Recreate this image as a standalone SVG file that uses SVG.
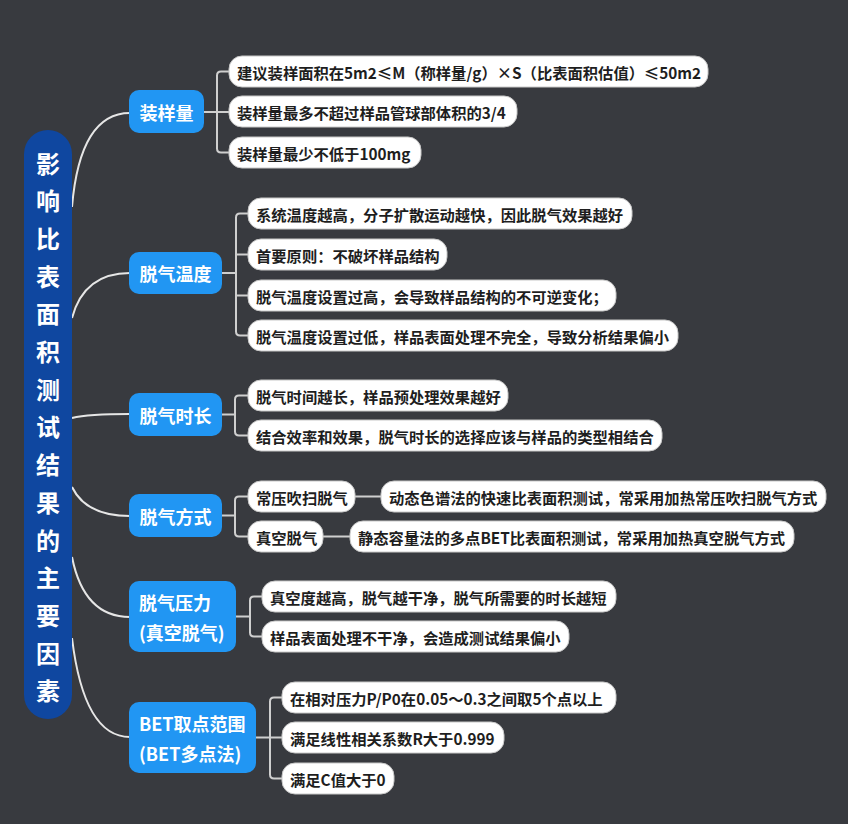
<svg xmlns="http://www.w3.org/2000/svg" width="848" height="824" viewBox="0 0 848 824">
<style>
.bg{fill:#383a3f}
.root{fill:#0f47a0}
.l1{fill:#2196f3}
.leaf{fill:#ffffff;stroke:#c8c8c8;stroke-width:1}
.curve{fill:none;stroke:#e6e6e6;stroke-width:2}
.br{fill:none;stroke:#cfcfcf;stroke-width:2}
text{font-family:"Noto Sans CJK SC","Microsoft YaHei",sans-serif;font-weight:bold;dominant-baseline:central}
.rt{fill:#ffffff;font-size:24px;text-anchor:middle}
.t1{fill:#ffffff;font-size:18px}
.t1c{fill:#ffffff;font-size:18px;text-anchor:middle}
.t2{fill:#1e1e1e;font-size:15.3px}
</style>
<rect class="bg" x="0" y="0" width="848" height="824"/>

<g id="connectors">
  <path class="curve" d="M72,207 Q80,113 130,113"/>
  <path class="curve" d="M72,318 Q84,273 130,273"/>
  <path class="curve" d="M72,418 Q88,414 130,414"/>
  <path class="curve" d="M72,487 Q86,516 130,516"/>
  <path class="curve" d="M72,557 Q84,617 130,617"/>
  <path class="curve" d="M72,638 Q84,737 130,737"/>

  <path class="br" d="M204,112 H229 M229,71.5 H221 Q217,71.5 217,75.5 V148.5 Q217,152.5 221,152.5 H229"/>
  <path class="br" d="M222,273 H236 M248,213.5 H240 Q236,213.5 236,217.5 V331.5 Q236,335.5 240,335.5 H248 M236,254.5 H248 M236,295.5 H248"/>
  <path class="br" d="M222,414.5 H235 M248,395.5 H239 Q235,395.5 235,399.5 V431.5 Q235,435.5 239,435.5 H248"/>
  <path class="br" d="M222,515.5 H235 M248,496.5 H239 Q235,496.5 235,500.5 V532.5 Q235,536.5 239,536.5 H248"/>
  <path class="br" d="M355,496.5 H381 M323,536.5 H350"/>
  <path class="br" d="M236,616.5 H250 M262,596.5 H254 Q250,596.5 250,600.5 V632.5 Q250,636.5 254,636.5 H262"/>
  <path class="br" d="M256,737.5 H282 M282,697.5 H274 Q270,697.5 270,701.5 V774.5 Q270,778.5 274,778.5 H282"/>
</g>

<g id="root">
  <rect class="root" x="24" y="130" width="48" height="589" rx="24"/>
  <text class="rt" x="48" y="162">影</text>
  <text class="rt" x="48" y="199.7">响</text>
  <text class="rt" x="48" y="237.4">比</text>
  <text class="rt" x="48" y="275.1">表</text>
  <text class="rt" x="48" y="312.8">面</text>
  <text class="rt" x="48" y="350.5">积</text>
  <text class="rt" x="48" y="388.2">测</text>
  <text class="rt" x="48" y="425.9">试</text>
  <text class="rt" x="48" y="463.6">结</text>
  <text class="rt" x="48" y="501.3">果</text>
  <text class="rt" x="48" y="539">的</text>
  <text class="rt" x="48" y="576.7">主</text>
  <text class="rt" x="48" y="614.4">要</text>
  <text class="rt" x="48" y="652.1">因</text>
  <text class="rt" x="48" y="689.8">素</text>
</g>

<g id="n-zyl">
  <rect class="l1" x="129" y="90" width="75" height="43" rx="10"/>
  <text class="t1c" x="166.5" y="111.5">装样量</text>
</g>
<g id="n-zyl-1"><rect class="leaf" x="229" y="56" width="479" height="31" rx="13"/><text class="t2" x="237" y="71.5">建议装样面积在5m2≤M（称样量/g）×S（比表面积估值）≤50m2</text></g>
<g id="n-zyl-2"><rect class="leaf" x="229" y="96" width="288" height="31" rx="13"/><text class="t2" x="237" y="111.5">装样量最多不超过样品管球部体积的3/4</text></g>
<g id="n-zyl-3"><rect class="leaf" x="229" y="137" width="192" height="31" rx="13"/><text class="t2" x="237" y="152.5">装样量最少不低于100mg</text></g>

<g id="n-wd">
  <rect class="l1" x="129" y="252" width="93" height="42" rx="10"/>
  <text class="t1c" x="175.5" y="273">脱气温度</text>
</g>
<g id="n-wd-1"><rect class="leaf" x="248" y="198" width="384" height="31" rx="13"/><text class="t2" x="256" y="213.5">系统温度越高，分子扩散运动越快，因此脱气效果越好</text></g>
<g id="n-wd-2"><rect class="leaf" x="248" y="239" width="199" height="31" rx="13"/><text class="t2" x="256" y="254.5">首要原则：不破坏样品结构</text></g>
<g id="n-wd-3"><rect class="leaf" x="248" y="280" width="368" height="31" rx="13"/><text class="t2" x="256" y="295.5">脱气温度设置过高，会导致样品结构的不可逆变化；</text></g>
<g id="n-wd-4"><rect class="leaf" x="248" y="320" width="430" height="31" rx="13"/><text class="t2" x="256" y="335.5">脱气温度设置过低，样品表面处理不完全，导致分析结果偏小</text></g>

<g id="n-sc">
  <rect class="l1" x="129" y="393" width="93" height="43" rx="10"/>
  <text class="t1c" x="175.5" y="414.5">脱气时长</text>
</g>
<g id="n-sc-1"><rect class="leaf" x="248" y="380" width="260" height="31" rx="13"/><text class="t2" x="256" y="395.5">脱气时间越长，样品预处理效果越好</text></g>
<g id="n-sc-2"><rect class="leaf" x="248" y="420" width="414" height="31" rx="13"/><text class="t2" x="256" y="435.5">结合效率和效果，脱气时长的选择应该与样品的类型相结合</text></g>

<g id="n-fs">
  <rect class="l1" x="129" y="494" width="93" height="43" rx="10"/>
  <text class="t1c" x="175.5" y="515.5">脱气方式</text>
</g>
<g id="n-fs-1"><rect class="leaf" x="248" y="481" width="107" height="31" rx="13"/><text class="t2" x="256" y="496.5">常压吹扫脱气</text></g>
<g id="n-fs-2"><rect class="leaf" x="248" y="521" width="75" height="31" rx="13"/><text class="t2" x="256" y="536.5">真空脱气</text></g>
<g id="n-fs-1a"><rect class="leaf" x="381" y="481" width="445" height="31" rx="13"/><text class="t2" x="389" y="496.5">动态色谱法的快速比表面积测试，常采用加热常压吹扫脱气方式</text></g>
<g id="n-fs-2a"><rect class="leaf" x="350" y="521" width="444" height="31" rx="13"/><text class="t2" x="358" y="536.5">静态容量法的多点BET比表面积测试，常采用加热真空脱气方式</text></g>

<g id="n-yl">
  <rect class="l1" x="129" y="581" width="107" height="71" rx="10"/>
  <text class="t1" x="139" y="602">脱气压力</text>
  <text class="t1" x="139" y="632">(真空脱气)</text>
</g>
<g id="n-yl-1"><rect class="leaf" x="262" y="581" width="354" height="31" rx="13"/><text class="t2" x="270" y="596.5">真空度越高，脱气越干净，脱气所需要的时长越短</text></g>
<g id="n-yl-2"><rect class="leaf" x="262" y="621" width="307" height="31" rx="13"/><text class="t2" x="270" y="636.5">样品表面处理不干净，会造成测试结果偏小</text></g>

<g id="n-bet">
  <rect class="l1" x="129" y="702" width="127" height="71" rx="10"/>
  <text class="t1" x="139" y="723">BET取点范围</text>
  <text class="t1" x="139" y="753">(BET多点法)</text>
</g>
<g id="n-bet-1"><rect class="leaf" x="282" y="682" width="334" height="31" rx="13"/><text class="t2" x="290" y="697.5">在相对压力P/P0在0.05～0.3之间取5个点以上</text></g>
<g id="n-bet-2"><rect class="leaf" x="282" y="722" width="222" height="31" rx="13"/><text class="t2" x="290" y="737.5">满足线性相关系数R大于0.999</text></g>
<g id="n-bet-3"><rect class="leaf" x="282" y="763" width="112" height="31" rx="13"/><text class="t2" x="290" y="778.5">满足C值大于0</text></g>
</svg>
